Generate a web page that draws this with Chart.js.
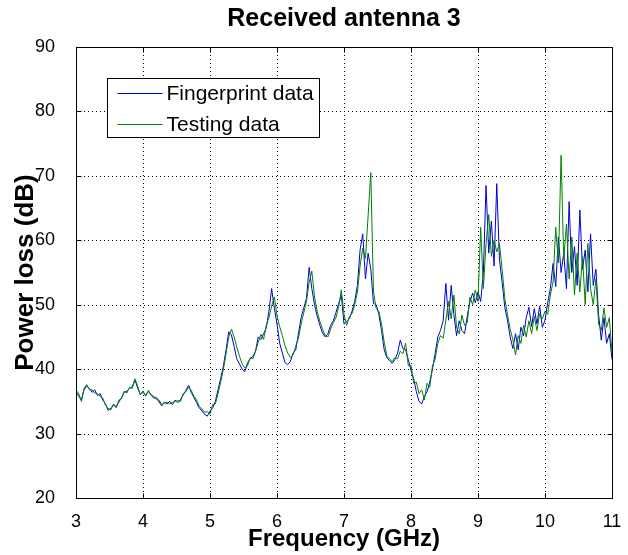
<!DOCTYPE html>
<html lang="en">
<head>
<meta charset="UTF-8" />
<script src="https://cdn.jsdelivr.net/npm/chart.js@4/dist/chart.umd.min.js"></script>
<title>Received antenna 3</title>
<style>
  html, body { margin: 0; padding: 0; background: #fff; }
</style>
</head>
<body>
<canvas id="chart" width="628" height="555"></canvas>
<script>
  // sampled every 0.04 GHz from 3 to 11 GHz
  const freqStart = 3;
  const freqStep = 0.04;

  const fingerprint = [
    36.5, 35.8, 35.2, 36.8, 37.4, 37.0, 36.4, 36.8, 35.9, 36.2, 35.2, 34.6, 33.6, 33.9, 34.4, 34.2, 34.9, 35.6, 36.4, 36.6, 37.0, 37.3, 38.3, 37.1, 36.1,
    36.4, 36.0, 36.5, 36.1, 35.5, 35.6, 34.9, 34.3, 34.9, 34.6, 35.0, 34.5, 35.2, 34.8, 35.3, 36.0, 36.7, 37.5, 36.4, 35.6, 34.8, 34.0, 33.5, 33.0, 32.7,
    33.5, 34.0, 35.0, 36.8, 38.6, 40.5, 43.0, 45.8, 45.3, 43.5, 41.6, 40.8, 40.0, 39.6, 41.0, 41.6, 42.0, 42.8, 45.0, 44.6, 45.5, 46.4, 49.0, 52.5, 49.5,
    47.0, 44.0, 42.5, 41.0, 40.7, 41.2, 42.5, 43.0, 45.5, 48.0, 49.5, 51.0, 55.8, 52.5, 50.0, 48.2, 46.8, 45.6, 45.0, 45.5, 46.8, 47.5, 48.8, 50.2, 51.5,
    47.0, 47.4, 47.8, 49.0, 50.5, 53.0, 58.5, 61.0, 54.0, 58.0, 55.5, 50.2, 50.0, 48.5, 46.0, 43.0, 41.8, 41.3, 40.9, 41.5, 42.5, 44.5, 43.2, 43.0, 41.5,
    39.8, 38.5, 36.5, 35.0, 34.6, 35.8, 36.5, 38.0, 40.0, 42.4, 45.0, 46.0, 47.5, 53.3, 47.6, 53.0, 48.5, 45.2, 47.5, 46.0, 45.5, 48.2, 50.5, 51.8, 50.3,
    52.0, 50.5, 55.0, 68.5, 58.0, 63.0, 56.0, 68.8, 57.0, 53.5, 49.6, 47.6, 45.0, 43.2, 45.5, 43.0, 46.5, 45.2, 48.0, 49.6, 46.6, 49.4, 47.0, 49.8, 46.5,
    47.6, 50.3, 52.5, 56.4, 52.8, 60.5, 55.0, 58.0, 52.5, 66.0, 55.0, 59.0, 53.0, 64.7, 55.5, 58.5, 52.0, 61.0, 53.0, 55.5, 48.5, 44.5, 48.0, 44.0, 45.5,
    41.5
  ];

  const testing = [
    36.8, 36.2, 35.0, 37.0, 37.6, 36.8, 36.8, 36.3, 36.2, 35.8, 35.5, 34.4, 33.9, 33.7, 34.6, 34.0, 35.2, 35.4, 36.6, 36.3, 37.2, 37.0, 38.5, 37.4, 36.0,
    36.6, 35.8, 36.7, 35.9, 35.8, 35.3, 35.2, 34.5, 34.7, 34.9, 34.6, 34.8, 35.0, 35.1, 35.0, 36.2, 36.5, 37.2, 36.7, 35.8, 35.2, 34.2, 33.8, 33.3, 33.4,
    33.0, 34.5, 34.6, 36.2, 38.0, 40.0, 42.4, 45.0, 46.2, 45.0, 43.4, 42.0, 40.8, 40.2, 40.5, 41.8, 41.6, 42.8, 44.2, 45.4, 44.6, 46.8, 48.0, 49.8, 51.2,
    48.3, 46.6, 45.2, 43.6, 42.5, 41.8, 42.2, 43.6, 44.8, 47.0, 48.8, 50.5, 53.5, 55.2, 51.2, 49.0, 47.4, 46.2, 45.2, 45.0, 46.2, 47.2, 48.0, 49.6, 52.3,
    48.5, 46.8, 48.2, 48.6, 50.0, 52.0, 56.0, 58.8, 57.2, 63.8, 70.5, 52.0, 49.4, 49.0, 47.0, 44.2, 42.0, 41.6, 41.2, 41.8, 41.6, 42.8, 42.4, 44.0, 40.5,
    40.6, 37.8, 38.0, 36.2, 36.8, 35.2, 37.8, 37.2, 40.5, 41.5, 44.0, 45.2, 44.8, 47.6, 50.5, 47.8, 51.5, 46.5, 45.5, 48.4, 46.8, 47.2, 51.2, 50.0, 52.3,
    50.5, 62.0, 52.5, 59.5, 64.0, 57.5, 60.0, 58.2, 59.5, 55.5, 51.0, 48.5, 46.2, 44.6, 42.2, 45.2, 44.0, 46.8, 45.0, 47.5, 45.5, 48.2, 46.0, 48.6, 47.8,
    49.0, 48.5, 51.5, 53.5, 62.0, 56.5, 73.2, 57.0, 62.5, 54.0, 60.5, 51.5, 58.0, 52.0, 57.5, 50.0, 59.5, 52.5, 50.0, 54.0, 47.0, 46.0, 49.5, 46.5, 48.0,
    42.5
  ];

  const seriesNames = ["Fingerprint data", "Testing data"];
  const seriesColors = ["#0000d8", "#008000"];

  const xTicks = [3, 4, 5, 6, 7, 8, 9, 10, 11];
  const yTicks = [20, 30, 40, 50, 60, 70, 80, 90];

  const toPoints = (vals) => vals.map((v, i) => ({ x: +(freqStart + i * freqStep).toFixed(2), y: v }));

  const sans = "'Liberation Sans', Arial, sans-serif";

  // dotted grid, axes box, inward ticks and the legend box, matlab style
  const matlabFrame = {
    id: "matlabFrame",
    beforeDatasetsDraw(chart) {
      const { ctx, chartArea: a, scales: { x, y } } = chart;
      ctx.save();
      ctx.strokeStyle = "#000";
      ctx.lineWidth = 1;
      ctx.setLineDash([1, 3]);
      xTicks.slice(1, -1).forEach(v => {
        const px = Math.round(x.getPixelForValue(v)) + 0.5;
        ctx.beginPath(); ctx.moveTo(px, a.top); ctx.lineTo(px, a.bottom); ctx.stroke();
      });
      yTicks.slice(1, -1).forEach(v => {
        const py = Math.round(y.getPixelForValue(v)) + 0.5;
        ctx.beginPath(); ctx.moveTo(a.left, py); ctx.lineTo(a.right, py); ctx.stroke();
      });
      ctx.restore();
    },
    afterDatasetsDraw(chart) {
      const { ctx, chartArea: a, scales: { x, y } } = chart;
      const L = Math.round(a.left) + 0.5, R = Math.round(a.right) + 0.5;
      const T = Math.round(a.top) + 0.5, B = Math.round(a.bottom) + 0.5;
      ctx.save();
      ctx.strokeStyle = "#000";
      ctx.lineWidth = 1;
      ctx.strokeRect(L, T, R - L, B - T);
      const tl = 5;
      ctx.beginPath();
      xTicks.forEach(v => {
        const px = Math.round(x.getPixelForValue(v)) + 0.5;
        ctx.moveTo(px, B); ctx.lineTo(px, B - tl);
        ctx.moveTo(px, T); ctx.lineTo(px, T + tl);
      });
      yTicks.forEach(v => {
        const py = Math.round(y.getPixelForValue(v)) + 0.5;
        ctx.moveTo(L, py); ctx.lineTo(L + tl, py);
        ctx.moveTo(R, py); ctx.lineTo(R - tl, py);
      });
      ctx.stroke();

      // legend
      const bx = 107.5, by = 78.5, bw = 212, bh = 59;
      ctx.fillStyle = "#fff";
      ctx.fillRect(bx, by, bw, bh);
      ctx.strokeRect(bx, by, bw, bh);
      ctx.font = "21px " + sans;
      ctx.textBaseline = "middle";
      chart.data.datasets.forEach((ds, i) => {
        const ry = Math.round(by + 14 + i * 31) + 0.5;
        ctx.strokeStyle = ds.borderColor;
        ctx.beginPath(); ctx.moveTo(bx + 10, ry); ctx.lineTo(bx + 55, ry); ctx.stroke();
        ctx.fillStyle = "#000";
        ctx.fillText(ds.label, bx + 59, ry + 1);
      });
      ctx.restore();
    }
  };

  new Chart(document.getElementById("chart"), {
    type: "line",
    data: {
      datasets: [
        { label: seriesNames[0], data: toPoints(fingerprint), borderColor: seriesColors[0], order: 1 },
        { label: seriesNames[1], data: toPoints(testing), borderColor: seriesColors[1], order: 0 }
      ]
    },
    options: {
      responsive: false,
      animation: false,
      layout: { padding: { left: 0, right: 16, top: 0, bottom: 0 } },
      elements: {
        point: { radius: 0 },
        line: { borderWidth: 1, tension: 0 }
      },
      plugins: {
        legend: { display: false },
        tooltip: { enabled: false },
        title: {
          display: true,
          fullSize: false,
          text: "Received antenna 3",
          color: "#000",
          font: { family: sans, size: 25, weight: "bold" },
          padding: { top: 4, bottom: 13 }
        }
      },
      scales: {
        x: {
          type: "linear",
          min: 3,
          max: 11,
          afterBuildTicks: (s) => { s.ticks = xTicks.map(v => ({ value: v })); },
          afterFit: (s) => { s.height = 57; },
          grid: { display: false },
          border: { display: false },
          ticks: { color: "#000", padding: 5, font: { family: sans, size: 18 }, maxRotation: 0 },
          title: {
            display: true,
            text: "Frequency (GHz)",
            color: "#000",
            font: { family: sans, size: 24, weight: "bold" },
            padding: { top: 0, bottom: 1 }
          }
        },
        y: {
          min: 20,
          max: 90,
          afterBuildTicks: (s) => { s.ticks = yTicks.map(v => ({ value: v })); },
          afterFit: (s) => { s.width = 76; },
          grid: { display: false },
          border: { display: false },
          ticks: { color: "#000", padding: 13, font: { family: sans, size: 18 } },
          title: {
            display: true,
            text: "Power loss (dB)",
            color: "#000",
            font: { family: sans, size: 26, weight: "bold" },
            padding: { top: 10, bottom: 0 }
          }
        }
      }
    },
    plugins: [matlabFrame]
  });
</script>
</body>
</html>
